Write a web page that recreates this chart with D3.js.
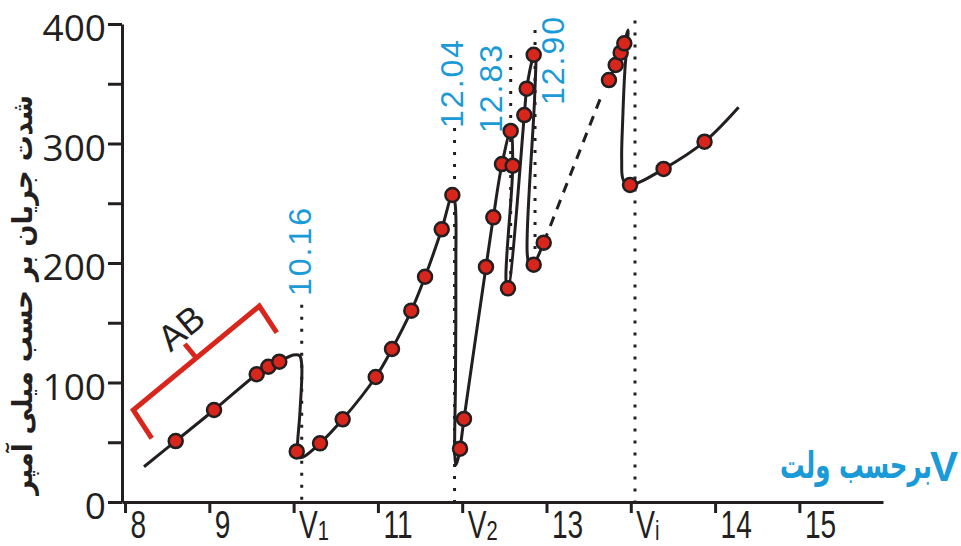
<!DOCTYPE html>
<html>
<head>
<meta charset="utf-8">
<script src="https://cdn.jsdelivr.net/npm/d3@7"></script>
<style>
 body{margin:0;background:#fff;}
 .ytick text{font-family:"Open Sans",sans-serif;font-size:37px;fill:#231f20;}
 .xtick text{font-family:"Liberation Sans",Arial,sans-serif;font-size:39px;fill:#231f20;}
</style>
</head>
<body>
<script>
const w = 961, h = 546;

// curve knots (volt, mA)
const curveA = [[8.225,29.5],[8.601,51.0],[9.056,77.0],[9.562,106.9],[9.700,113.2],[9.830,117.4],[9.996,123.0],
  [10.07,122.6],[10.096,115],[10.075,75],[10.045,44],[10.06,37.5],[10.11,37.5],[10.313,49.1],[10.582,69.2],
  [10.974,104.6],[11.167,128.0],[11.396,160.1],[11.559,188.5],[11.757,228.2],[11.883,256.9],[11.915,250],
  [11.925,200],[11.92,100],[11.912,40],[11.925,31],[11.95,36],[11.974,44.6],[12.021,69.5],[12.282,196.7],
  [12.369,238.2],[12.472,282.8],[12.575,310.5],[12.599,281.4],[12.52,185],[12.543,178.8],[12.737,323.8],
  [12.765,345.9],[12.848,374.3],[12.87,378],[12.86,340],[12.771,208.4],[12.804,195.6],[12.848,198.6],[12.967,217.0]];
const curveDash = [[12.967,217.0],[13.655,340.6]];
const curveB = [[13.741,353.1],[13.821,365.7],[13.880,376.0],[13.923,383.8],[13.967,395],[13.93,361.5],
  [13.904,319.7],[13.892,286.2],[13.911,269.5],[13.991,265.3],[14.389,278.7],[14.875,301.5],[15.279,330.3]];

// measured points
const points = [[8.601,51.0],[9.056,77.0],[9.562,106.9],[9.700,113.2],[9.830,117.4],[10.037,42.3],
  [10.313,49.1],[10.582,69.2],[10.974,104.6],[11.167,128.0],[11.396,160.1],[11.559,188.5],[11.757,228.2],
  [11.883,256.9],[11.974,44.6],[12.021,69.5],[12.282,196.7],[12.369,238.2],[12.472,282.8],[12.575,310.5],
  [12.599,281.4],[12.543,178.8],[12.737,323.8],[12.765,345.9],[12.848,374.3],[12.848,198.6],[12.967,217.0],
  [13.741,353.1],[13.821,365.7],[13.880,376.0],[13.923,383.8],[13.991,265.3],[14.389,278.7],[14.875,301.5]];

const xTicks = [8,9,10,11,12,13,14,15,16];
const xTickMain = ["8","9","V","11","V","13","V","14","15"];
const xTickSub  = ["","","1","","2","","i","",""];
const yTicks = [0,50,100,150,200,250,300,350,400];

// dotted guide lines
const guideX = [10.096, 11.909, 12.575, 12.864, 14.05];
const guideTop = [165, 313, 374, 395, 403];
const guideBottom = [0, 0, 180, 196, 0];

const peakLabels = ["10.16","12.04","12.83","12.90"];
const peakLabelX = [10.212, 12.009, 12.469, 13.208];
const peakLabelY = [172.4, 313, 308.8, 332.2];

const bracket = [[8.317,53.3],[8.098,77],[9.593,164],[9.8,141.7]];
const bracketStub = [[8.846,120.5],[8.709,132.2]];
const abPos = [8.66,146];

const red = "#d9261c", ink = "#231f20", blue = "#1b9ad8";

const x = d3.scaleLinear().domain([7.964, 16.992]).range([122, 883]);
const y = d3.scaleLinear().domain([0, 400]).range([502, 24]);

const svg = d3.select("body").append("svg").attr("width", w).attr("height", h);

// squeeze a text to a wanted width
function fit(t, wanted, base){
  const len = t.node().getComputedTextLength();
  t.attr("transform", base + ` scale(${wanted / len},1)`);
}

// axes
const yAxis = svg.append("g").attr("class","ytick").attr("transform","translate(122,0)")
  .call(d3.axisLeft(y).tickValues(yTicks).tickSize(14).tickSizeOuter(0).tickPadding(2)
    .tickFormat(d => d % 100 === 0 ? d : ""));
yAxis.selectAll("line").attr("stroke", ink).attr("stroke-width", 3);
yAxis.select(".domain").attr("stroke", ink).attr("stroke-width", 3);
yAxis.selectAll("text").attr("dy","0.45em");

const xAxis = svg.append("g").attr("class","xtick").attr("transform","translate(0,502)")
  .call(d3.axisBottom(x).tickValues(xTicks).tickSize(11).tickSizeOuter(0).tickFormat(""));
xAxis.selectAll("line").attr("stroke", ink).attr("stroke-width", 3);
xAxis.select(".domain").attr("stroke", ink).attr("stroke-width", 3);
xAxis.selectAll(".tick").each(function(d, i){
  const t = d3.select(this).select("text").text(null)
    .attr("x", null).attr("y", null).attr("dy", null).attr("text-anchor","start")
    .attr("transform","translate(5,36) scale(0.72,1)");
  t.append("tspan").text(xTickMain[i]);
  if (xTickSub[i]) t.append("tspan").attr("dy", 2).attr("font-size", 28).text(xTickSub[i]);
});

// dotted guides
guideX.forEach((g, i) => {
  svg.append("line")
    .attr("x1", x(g)).attr("x2", x(g))
    .attr("y1", y(guideTop[i])).attr("y2", y(guideBottom[i]))
    .attr("stroke", ink).attr("stroke-width", 3).attr("stroke-dasharray", "3,9");
});

// curve
const line = d3.line().x(d => x(d[0])).y(d => y(d[1])).curve(d3.curveCatmullRom.alpha(0.5));
[curveA, curveB].forEach(c => {
  svg.append("path").datum(c).attr("d", line)
    .attr("fill","none").attr("stroke", ink).attr("stroke-width", 3);
});
svg.append("path").datum(curveDash).attr("d", d3.line().x(d => x(d[0])).y(d => y(d[1])))
  .attr("fill","none").attr("stroke", ink).attr("stroke-width", 3).attr("stroke-dasharray","10,8");

// bracket
const straight = d3.line().x(d => x(d[0])).y(d => y(d[1]));
svg.append("path").datum(bracket).attr("d", straight)
  .attr("fill","none").attr("stroke", red).attr("stroke-width", 5);
svg.append("path").datum(bracketStub).attr("d", straight)
  .attr("fill","none").attr("stroke", red).attr("stroke-width", 5);
svg.append("text")
  .attr("transform", `translate(${x(abPos[0])},${y(abPos[1])}) rotate(-39.5)`)
  .attr("text-anchor","middle").attr("dy","0.36em")
  .attr("font-family","Liberation Sans, Arial, sans-serif").attr("font-size", 36).attr("fill", ink)
  .text("AB");

// points
svg.selectAll("circle.pt").data(points).enter().append("circle").attr("class","pt")
  .attr("cx", d => x(d[0])).attr("cy", d => y(d[1])).attr("r", 7)
  .attr("fill", red).attr("stroke", ink).attr("stroke-width", 2.5);

// peak labels
peakLabels.forEach((t, i) => {
  svg.append("text")
    .attr("transform", `translate(${x(peakLabelX[i])},${y(peakLabelY[i])}) rotate(-90)`)
    .attr("font-family","Liberation Sans, Arial, sans-serif").attr("font-size", 32)
    .attr("letter-spacing", 2).attr("fill", blue).text(t);
});

// axis titles
const yTitle = svg.append("text")
  .attr("text-anchor","middle").attr("dominant-baseline","central")
  .attr("font-family","DejaVu Sans, sans-serif").attr("font-weight","bold")
  .attr("font-size", 28).attr("fill", ink)
  .text("شدت جریان بر حسب میلی آمپر");
fit(yTitle, 400, "translate(22,295) rotate(-90)");

svg.append("text").attr("x", 958).attr("y", 481).attr("text-anchor","end")
  .attr("font-family","Liberation Sans, Arial, sans-serif").attr("font-weight","bold")
  .attr("font-size", 42).attr("fill", blue).text("V");
const xTitle = svg.append("text").attr("text-anchor","end")
  .attr("font-family","DejaVu Sans, sans-serif").attr("font-weight","bold")
  .attr("font-size", 37).attr("fill", blue).text("برحسب ولت");
fit(xTitle, 152, "translate(932,478)");
</script>
</body>
</html>
